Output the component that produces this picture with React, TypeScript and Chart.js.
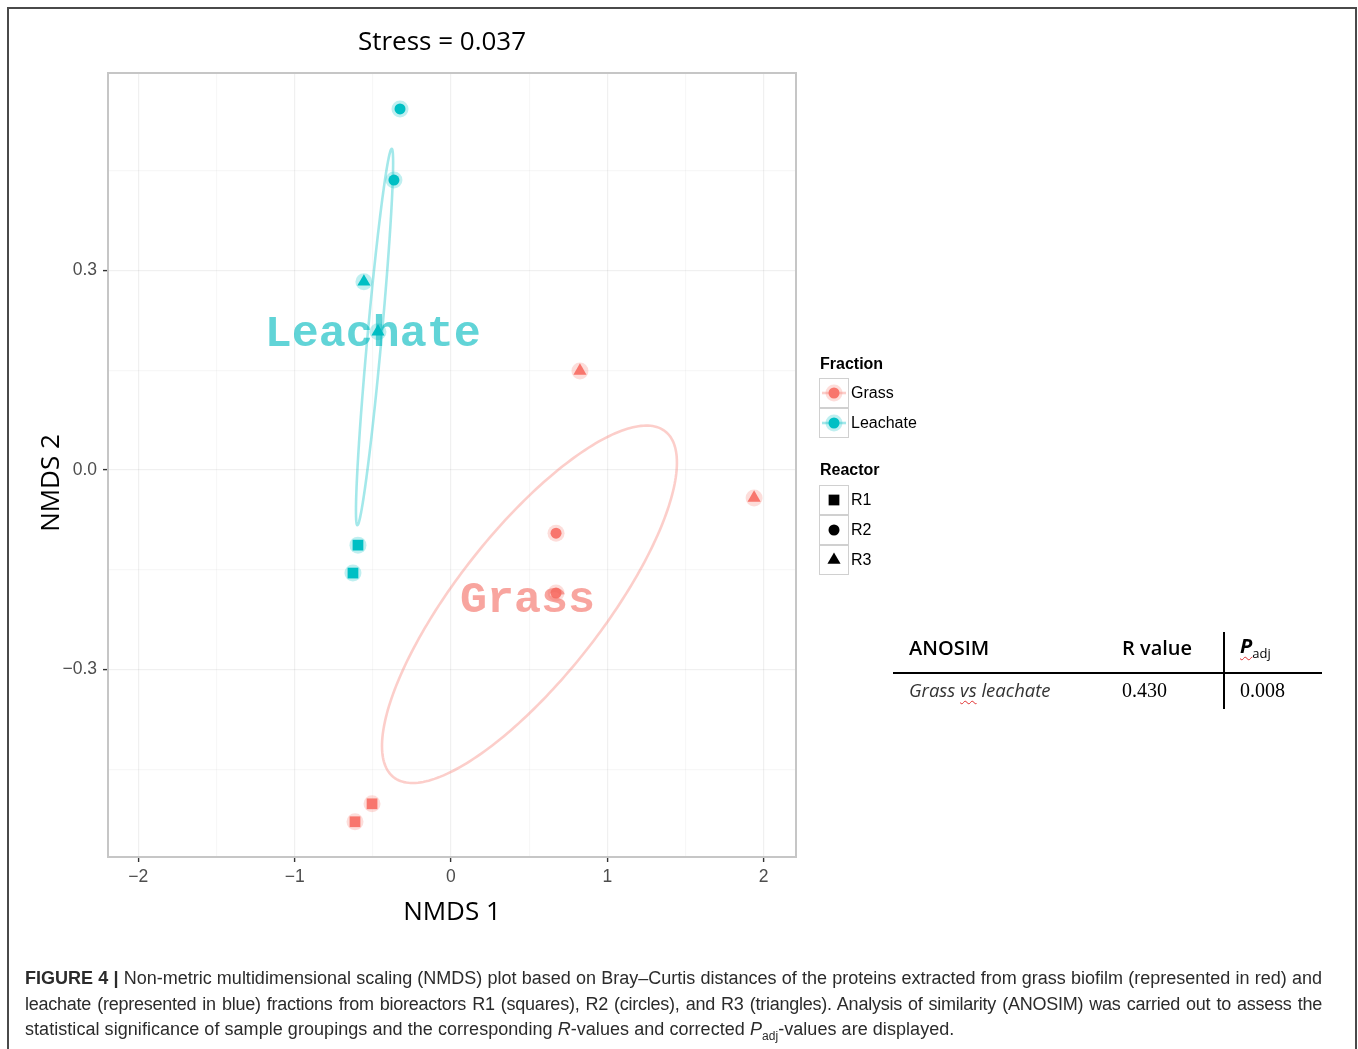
import React, { useEffect, useRef } from 'react';
import { Chart, registerables } from 'chart.js';

Chart.register(...registerables);

// ---------------- data ----------------
const fractionNames = ['Grass', 'Leachate'];
const reactorNames = ['R1', 'R2', 'R3'];

const grassNMDS1 = [-0.614, -0.505, 0.672, 0.672, 0.825, 1.939];
const grassNMDS2 = [-0.529, -0.502, -0.185, -0.095, 0.149, -0.042];
const grassReactor = ['R1', 'R1', 'R2', 'R2', 'R3', 'R3'];

const leachateNMDS1 = [-0.627, -0.595, -0.365, -0.326, -0.557, -0.467];
const leachateNMDS2 = [-0.155, -0.113, 0.436, 0.543, 0.283, 0.208];
const leachateReactor = ['R1', 'R1', 'R2', 'R2', 'R3', 'R3'];

// confidence ellipses: centre and two semi-axis vectors (data units)
const grassEllipseCentre = [0.502, -0.202];
const grassEllipseAxisA = [0.869, 0.26];
const grassEllipseAxisB = [0.367, -0.068];
const leachateEllipseCentre = [-0.489, 0.2];
const leachateEllipseAxisA = [0.11, 0.283];
const leachateEllipseAxisB = [0.045, -0.001];

// group label anchors (data units)
const groupLabelNMDS1 = [0.49, -0.5];
const groupLabelNMDS2 = [-0.196, 0.203];

const xMajorTicks = [-2, -1, 0, 1, 2];
const xMinorTicks = [-1.5, -0.5, 0.5, 1.5];
const yMajorTicks = [-0.3, 0, 0.3];
const yMinorTicks = [-0.45, -0.15, 0.15, 0.45];
const xRange = [-2.194, 2.207];
const yRange = [-0.582, 0.597];

const stressTitle = 'Stress = 0.037';
const xTitle = 'NMDS 1';
const yTitle = 'NMDS 2';

const anosimComparison = ['Grass', 'vs', 'leachate'];
const anosimR = '0.430';
const anosimPadj = '0.008';

// ---------------- styles ----------------
const fractionColor = ['#F8766D', '#00BFC4'];
const fractionHalo = ['rgba(248,118,109,0.25)', 'rgba(0,191,196,0.25)'];
const fractionEllipse = ['rgba(248,118,109,0.36)', 'rgba(0,191,196,0.36)'];
const fractionText = ['rgba(244,110,100,0.62)', 'rgba(0,185,190,0.62)'];
const reactorShape: Record<string, string> = { R1: 'rect', R2: 'circle', R3: 'triangle' };
const reactorRadius: Record<string, number> = { R1: 7.6, R2: 5.5, R3: 7.6 };

const PLOT_LEFT = 108;
const PLOT_RIGHT = 796;
const PLOT_TOP = 73;
const W = 1358;
const H = 1049;

const fmtNum = (v: number, d: number) => (v < 0 ? '\u2212' + Math.abs(v).toFixed(d) : v.toFixed(d));

function drawShape(ctx: CanvasRenderingContext2D, shape: string, x: number, y: number, r: number) {
  ctx.beginPath();
  if (shape === 'rect') {
    const s = r * Math.SQRT1_2;
    ctx.rect(x - s, y - s, 2 * s, 2 * s);
  } else if (shape === 'triangle') {
    ctx.moveTo(x, y - r);
    ctx.lineTo(x + r * Math.sin(Math.PI * 2 / 3), y - r * Math.cos(Math.PI * 2 / 3));
    ctx.lineTo(x + r * Math.sin(Math.PI * 4 / 3), y - r * Math.cos(Math.PI * 4 / 3));
    ctx.closePath();
  } else {
    ctx.arc(x, y, r, 0, Math.PI * 2);
  }
  ctx.fill();
}

const ellipses = [
  { c: grassEllipseCentre, a: grassEllipseAxisA, b: grassEllipseAxisB, color: fractionEllipse[0] },
  { c: leachateEllipseCentre, a: leachateEllipseAxisA, b: leachateEllipseAxisB, color: fractionEllipse[1] },
];

const extrasPlugin = {
  id: 'nmdsExtras',
  beforeDatasetsDraw(chart: any) {
    const { ctx, chartArea, scales } = chart;
    const xs = scales.x;
    const ys = scales.y;
    ctx.save();
    ctx.beginPath();
    ctx.rect(chartArea.left, chartArea.top, chartArea.width, chartArea.height);
    ctx.clip();
    ellipses.forEach((e) => {
      ctx.beginPath();
      for (let k = 0; k <= 240; k++) {
        const t = (k / 240) * Math.PI * 2;
        const vx = e.c[0] + e.a[0] * Math.cos(t) + e.b[0] * Math.sin(t);
        const vy = e.c[1] + e.a[1] * Math.cos(t) + e.b[1] * Math.sin(t);
        const px = xs.getPixelForValue(vx);
        const py = ys.getPixelForValue(vy);
        if (k === 0) ctx.moveTo(px, py);
        else ctx.lineTo(px, py);
      }
      ctx.closePath();
      ctx.strokeStyle = e.color;
      ctx.lineWidth = 2.6;
      ctx.stroke();
    });
    ctx.restore();
  },
  afterDatasetsDraw(chart: any) {
    const { ctx, chartArea, scales } = chart;
    ctx.save();
    ctx.font = 'bold 45px "Liberation Mono", "DejaVu Sans Mono", monospace';
    ctx.textAlign = 'center';
    ctx.textBaseline = 'middle';
    fractionNames.forEach((name, i) => {
      ctx.fillStyle = fractionText[i];
      ctx.fillText(name, scales.x.getPixelForValue(groupLabelNMDS1[i]), scales.y.getPixelForValue(groupLabelNMDS2[i]));
    });
    // panel border
    ctx.strokeStyle = '#c6c6c6';
    ctx.lineWidth = 2;
    ctx.strokeRect(chartArea.left, chartArea.top, chartArea.width, chartArea.height);
    ctx.restore();
  },
  afterDraw(chart: any) {
    const { ctx } = chart;
    // plot title
    ctx.save();
    ctx.font = '26px "Open Sans"';
    ctx.fillStyle = '#000';
    ctx.textAlign = 'center';
    ctx.textBaseline = 'middle';
    ctx.fillText(stressTitle, 442, 43);
    ctx.restore();

    // y axis title
    ctx.save();
    ctx.translate(52, 483);
    ctx.rotate(-Math.PI / 2);
    ctx.font = '26px "Open Sans"';
    ctx.fillStyle = '#000';
    ctx.textAlign = 'center';
    ctx.textBaseline = 'middle';
    ctx.fillText(yTitle, 0, 0);
    ctx.restore();

    // legend
    ctx.save();
    ctx.textAlign = 'left';
    ctx.textBaseline = 'middle';
    const keyX = 819;
    const keyS = 30;
    ctx.font = 'bold 16px "Liberation Sans", Arial, sans-serif';
    ctx.fillStyle = '#000';
    ctx.fillText('Fraction', 820, 365);
    fractionNames.forEach((name, i) => {
      const top = 378 + i * keyS;
      const cy = top + keyS / 2;
      const cx = keyX + keyS / 2;
      ctx.strokeStyle = '#d0d0d0';
      ctx.lineWidth = 1;
      ctx.strokeRect(keyX + 0.5, top + 0.5, keyS - 1, keyS - 1);
      ctx.strokeStyle = fractionEllipse[i];
      ctx.lineWidth = 2.6;
      ctx.beginPath();
      ctx.moveTo(keyX + 3, cy);
      ctx.lineTo(keyX + keyS - 3, cy);
      ctx.stroke();
      ctx.fillStyle = fractionHalo[i];
      drawShape(ctx, 'circle', cx, cy, 8.5);
      ctx.fillStyle = fractionColor[i];
      drawShape(ctx, 'circle', cx, cy, 5.5);
      ctx.fillStyle = '#000';
      ctx.font = '16px "Liberation Sans", Arial, sans-serif';
      ctx.fillText(name, 851, cy + 1);
    });
    ctx.font = 'bold 16px "Liberation Sans", Arial, sans-serif';
    ctx.fillStyle = '#000';
    ctx.fillText('Reactor', 820, 471);
    reactorNames.forEach((name, i) => {
      const top = 485 + i * keyS;
      const cy = top + keyS / 2;
      const cx = keyX + keyS / 2;
      ctx.strokeStyle = '#d0d0d0';
      ctx.lineWidth = 1;
      ctx.strokeRect(keyX + 0.5, top + 0.5, keyS - 1, keyS - 1);
      ctx.fillStyle = '#000';
      drawShape(ctx, reactorShape[name], cx, cy, reactorRadius[name]);
      ctx.font = '16px "Liberation Sans", Arial, sans-serif';
      ctx.fillText(name, 851, cy + 1);
    });
    ctx.restore();
  },
};

const pts = (xs: number[], ys: number[]) => xs.map((x, i) => ({ x, y: ys[i] }));

function buildConfig(): any {
  const isMajorX = (v: number) => xMajorTicks.includes(v);
  const isMajorY = (v: number) => yMajorTicks.includes(v);
  const tickFont = { family: '"Liberation Sans", Arial, sans-serif', size: 17.5 };
  return {
    type: 'scatter',
    data: {
      datasets: [
        {
          label: 'Grass',
          data: pts(grassNMDS1, grassNMDS2),
          pointStyle: grassReactor.map((r) => reactorShape[r]),
          pointRadius: grassReactor.map((r) => reactorRadius[r]),
          pointBackgroundColor: fractionColor[0],
          pointBorderWidth: 0,
          order: 1,
        },
        {
          label: 'Leachate',
          data: pts(leachateNMDS1, leachateNMDS2),
          pointStyle: leachateReactor.map((r) => reactorShape[r]),
          pointRadius: leachateReactor.map((r) => reactorRadius[r]),
          pointBackgroundColor: fractionColor[1],
          pointBorderWidth: 0,
          order: 1,
        },
        {
          label: 'Grass halo',
          data: pts(grassNMDS1, grassNMDS2),
          pointStyle: 'circle',
          pointRadius: 8.5,
          pointBackgroundColor: fractionHalo[0],
          pointBorderWidth: 0,
          order: 2,
        },
        {
          label: 'Leachate halo',
          data: pts(leachateNMDS1, leachateNMDS2),
          pointStyle: 'circle',
          pointRadius: 8.5,
          pointBackgroundColor: fractionHalo[1],
          pointBorderWidth: 0,
          order: 2,
        },
      ],
    },
    options: {
      responsive: false,
      maintainAspectRatio: false,
      animation: false,
      devicePixelRatio: 1,
      layout: { padding: { left: 28, right: W - PLOT_RIGHT, top: PLOT_TOP, bottom: 112 } },
      plugins: {
        legend: { display: false },
        tooltip: { enabled: false },
        title: { display: false },
      },
      scales: {
        x: {
          type: 'linear',
          min: xRange[0],
          max: xRange[1],
          afterBuildTicks: (s: any) => {
            s.ticks = [...xMajorTicks, ...xMinorTicks].sort((a, b) => a - b).map((v) => ({ value: v }));
          },
          afterFit: (s: any) => {
            s.height = 80;
          },
          border: { display: false },
          grid: {
            color: (c: any) => (isMajorX(c.tick?.value) ? 'rgba(0,0,0,0.06)' : 'rgba(0,0,0,0.03)'),
            lineWidth: 1.2,
            tickColor: (c: any) => (isMajorX(c.tick?.value) ? '#333' : 'rgba(0,0,0,0)'),
            tickLength: 5,
            tickWidth: 1.4,
          },
          ticks: {
            autoSkip: false,
            maxRotation: 0,
            padding: 5,
            color: '#4d4d4d',
            font: tickFont,
            callback: (v: number) => (isMajorX(v) ? fmtNum(v, 0) : ''),
          },
          title: {
            display: true,
            text: xTitle,
            color: '#000',
            font: { family: '"Open Sans"', size: 26, lineHeight: 1.2 },
            padding: { top: 0, bottom: 8.4 },
          },
        },
        y: {
          type: 'linear',
          min: yRange[0],
          max: yRange[1],
          afterBuildTicks: (s: any) => {
            s.ticks = [...yMajorTicks, ...yMinorTicks].sort((a, b) => a - b).map((v) => ({ value: v }));
          },
          afterFit: (s: any) => {
            s.width = PLOT_LEFT - 28;
          },
          border: { display: false },
          grid: {
            color: (c: any) => (isMajorY(c.tick?.value) ? 'rgba(0,0,0,0.06)' : 'rgba(0,0,0,0.03)'),
            lineWidth: 1.2,
            tickColor: (c: any) => (isMajorY(c.tick?.value) ? '#333' : 'rgba(0,0,0,0)'),
            tickLength: 5,
            tickWidth: 1.4,
          },
          ticks: {
            autoSkip: false,
            padding: 6,
            color: '#4d4d4d',
            font: tickFont,
            callback: (v: number) => (isMajorY(v) ? fmtNum(v, 1) : ''),
          },
        },
      },
    },
    plugins: [extrasPlugin],
  };
}

const wavy: React.CSSProperties = {
  textDecorationLine: 'underline',
  textDecorationStyle: 'wavy',
  textDecorationColor: '#e03030',
  textDecorationThickness: '1px',
  textUnderlineOffset: '3px',
};

export default function App() {
  const canvasRef = useRef<HTMLCanvasElement>(null);
  useEffect(() => {
    const canvas = canvasRef.current;
    if (!canvas) return;
    const chart = new Chart(canvas, buildConfig());
    return () => chart.destroy();
  }, []);

  const tableFont = '"Open Sans", "Noto Sans", sans-serif';
  const captionLine: React.CSSProperties = {
    position: 'absolute',
    left: 25,
    width: 1297,
    height: 26,
    lineHeight: '26px',
    whiteSpace: 'nowrap',
    textAlign: 'justify',
    textAlignLast: 'justify',
  };

  return (
    <div style={{ position: 'fixed', left: 0, top: 0, width: W, height: H, overflow: 'hidden', background: '#fff' }}>
      <div style={{ position: 'absolute', left: 7, top: 7, width: 1346, height: 1100, border: '2px solid #4a4a4a' }} />
      <canvas ref={canvasRef} width={W} height={H} style={{ position: 'absolute', left: 0, top: 0, width: W, height: H }} />

      {/* ANOSIM table */}
      <div style={{ position: 'absolute', left: 0, top: 0, fontFamily: tableFont, color: '#000' }}>
        <div style={{ position: 'absolute', left: 909, top: 636, lineHeight: '24px', fontSize: 20, fontWeight: 600, whiteSpace: 'nowrap' }}>ANOSIM</div>
        <div style={{ position: 'absolute', left: 1122, top: 636, lineHeight: '24px', fontSize: 20, fontWeight: 600, whiteSpace: 'nowrap' }}>R value</div>
        <div style={{ position: 'absolute', left: 1240, top: 634, lineHeight: '24px', fontSize: 20, fontWeight: 700, whiteSpace: 'nowrap' }}>
          <span style={{ ...wavy, fontStyle: 'italic' }}>P<sub style={{ fontSize: 13, fontWeight: 400, fontStyle: 'normal' }}>adj</sub></span>
        </div>
        <div style={{ position: 'absolute', left: 893, top: 672, width: 429, height: 2, background: '#000' }} />
        <div style={{ position: 'absolute', left: 1223, top: 632, width: 2, height: 77, background: '#000' }} />
        <div style={{ position: 'absolute', left: 909, top: 678, lineHeight: '24px', fontSize: 18.5, fontStyle: 'italic', color: '#333', whiteSpace: 'nowrap' }}>
          {anosimComparison[0]} <span style={wavy}>{anosimComparison[1]}</span> {anosimComparison[2]}
        </div>
        <div style={{ position: 'absolute', left: 1122, top: 678, lineHeight: '24px', fontSize: 20, fontFamily: '"Liberation Serif", serif', whiteSpace: 'nowrap' }}>{anosimR}</div>
        <div style={{ position: 'absolute', left: 1240, top: 678, lineHeight: '24px', fontSize: 20, fontFamily: '"Liberation Serif", serif', whiteSpace: 'nowrap' }}>{anosimPadj}</div>
      </div>

      {/* caption */}
      <div style={{ position: 'absolute', left: 0, top: 0, fontFamily: '"Liberation Sans", Arial, sans-serif', fontSize: 18, color: '#2b2b2b' }}>
        <div style={{ ...captionLine, top: 965 }}>
          <b>FIGURE 4 |</b> Non-metric multidimensional scaling (NMDS) plot based on Bray–Curtis distances of the proteins extracted from grass biofilm (represented in red) and
        </div>
        <div style={{ ...captionLine, top: 991, letterSpacing: '-0.25px' }}>
          leachate (represented in blue) fractions from bioreactors R1 (squares), R2 (circles), and R3 (triangles). Analysis of similarity (ANOSIM) was carried out to assess the
        </div>
        <div style={{ ...captionLine, top: 1016, textAlign: 'left', textAlignLast: 'left', letterSpacing: '0.05px' }}>
          statistical significance of sample groupings and the corresponding <i>R</i>-values and corrected <i>P</i>
          <sub style={{ fontSize: 12 }}>adj</sub>-values are displayed.
        </div>
      </div>
    </div>
  );
}
